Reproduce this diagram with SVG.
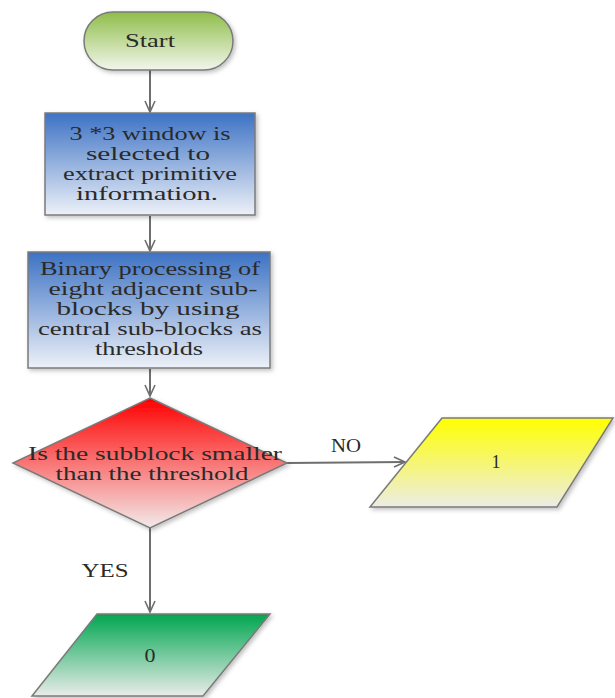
<svg xmlns="http://www.w3.org/2000/svg" width="615" height="698" viewBox="0 0 615 698">
<defs>
<linearGradient id="gStart" x1="0" y1="0" x2="0" y2="1"><stop offset="0" stop-color="#8fbd4a"/><stop offset="1" stop-color="#f2f6ec"/></linearGradient>
<linearGradient id="gBlue" x1="0" y1="0" x2="0" y2="1"><stop offset="0" stop-color="#3d72c4"/><stop offset="1" stop-color="#edf1f8"/></linearGradient>
<linearGradient id="gRed" x1="0" y1="0" x2="0" y2="1"><stop offset="0" stop-color="#ff0000"/><stop offset="1" stop-color="#f3eaea"/></linearGradient>
<linearGradient id="gYellow" x1="0" y1="0" x2="0" y2="1"><stop offset="0" stop-color="#ffff00"/><stop offset="1" stop-color="#ecece6"/></linearGradient>
<linearGradient id="gGreen" x1="0" y1="0" x2="0" y2="1"><stop offset="0" stop-color="#00a650"/><stop offset="1" stop-color="#e9ece9"/></linearGradient>
<filter id="sh" x="-10%" y="-10%" width="130%" height="130%"><feDropShadow dx="2" dy="2" stdDeviation="2" flood-color="#000" flood-opacity="0.25"/></filter>
<marker id="arr" markerWidth="14" markerHeight="12" refX="12" refY="6" orient="auto" markerUnits="userSpaceOnUse"><path d="M1,1 L12,6 L1,11" fill="none" stroke="#6e6e6e" stroke-width="1.6"/></marker>
<style>
.shape{stroke:#7a7a7a;stroke-width:1.5;filter:url(#sh)}
.t{font-family:"Liberation Serif","Times New Roman",serif;font-size:18px;fill:#2a2a2a;text-anchor:middle}
.c{stroke:#6e6e6e;stroke-width:2;fill:none;marker-end:url(#arr)}
</style>
</defs>
<g id="connectors">
<line class="c" x1="150" y1="70" x2="150" y2="112"/>
<line class="c" x1="150" y1="216" x2="150" y2="251"/>
<line class="c" x1="150" y1="369" x2="150" y2="396"/>
<line class="c" x1="287" y1="463" x2="405" y2="462"/>
<line class="c" x1="150" y1="528" x2="150" y2="612"/>
<text class="t" x="346" y="452" textLength="30" lengthAdjust="spacingAndGlyphs">NO</text>
<text class="t" x="105" y="577" textLength="47" lengthAdjust="spacingAndGlyphs">YES</text>
</g>
<g id="start">
<rect class="shape" x="84" y="12" width="149" height="58" rx="29" ry="29" fill="url(#gStart)"/>
<text class="t" x="150" y="47" textLength="50" lengthAdjust="spacingAndGlyphs">Start</text>
</g>
<g id="window">
<rect class="shape" x="45" y="113" width="210" height="102" fill="url(#gBlue)"/>
<text class="t" x="150" y="140" textLength="161" lengthAdjust="spacingAndGlyphs">3 *3 window is</text>
<text class="t" x="148" y="160" textLength="124" lengthAdjust="spacingAndGlyphs">selected to</text>
<text class="t" x="150" y="180" textLength="174" lengthAdjust="spacingAndGlyphs">extract primitive</text>
<text class="t" x="147" y="200" textLength="142" lengthAdjust="spacingAndGlyphs">information.</text>
</g>
<g id="binary">
<rect class="shape" x="28" y="252" width="242" height="116" fill="url(#gBlue)"/>
<text class="t" x="150" y="275" textLength="220" lengthAdjust="spacingAndGlyphs">Binary processing of</text>
<text class="t" x="153" y="295" textLength="209" lengthAdjust="spacingAndGlyphs">eight adjacent sub-</text>
<text class="t" x="148" y="315" textLength="183" lengthAdjust="spacingAndGlyphs">blocks by using</text>
<text class="t" x="150" y="335" textLength="224" lengthAdjust="spacingAndGlyphs">central sub-blocks as</text>
<text class="t" x="149" y="355" textLength="108" lengthAdjust="spacingAndGlyphs">thresholds</text>
</g>
<g id="decision">
<polygon class="shape" points="150,398 287,463 150,528 13,463" fill="url(#gRed)"/>
<text class="t" x="155" y="460" textLength="254" lengthAdjust="spacingAndGlyphs">Is the subblock smaller</text>
<text class="t" x="152" y="480" textLength="193" lengthAdjust="spacingAndGlyphs">than the threshold</text>
</g>
<g id="out1">
<polygon class="shape" points="442,418 613,418 557,507 370,507" fill="url(#gYellow)"/>
<text class="t" x="496" y="468">1</text>
</g>
<g id="out0">
<polygon class="shape" points="97,614 270,614 203,696 32,696" fill="url(#gGreen)"/>
<text class="t" x="150" y="662" textLength="11" lengthAdjust="spacingAndGlyphs">0</text>
</g>
</svg>
